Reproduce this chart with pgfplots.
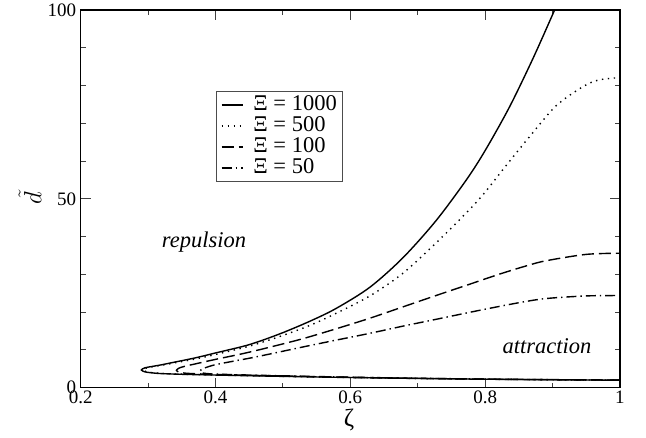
\documentclass[border=0pt]{standalone}
\usepackage{pgfplots}
\pgfplotsset{compat=1.18}
\usepackage{fontspec}
\setmainfont{Liberation Serif}
\begin{document}
\begin{tikzpicture}[x=1pt,y=1pt]
\useasboundingbox (0,0) rectangle (646,437);
\begin{axis}[
  at={(80.7pt,49.3pt)}, anchor=south west,
  scale only axis, width=539.3pt, height=377.7pt,
  xmin=0.2, xmax=1, ymin=0, ymax=100,
  xtick={0.2,0.4,0.6,0.8,1}, xticklabels={0.2,0.4,0.6,0.8,1},
  ytick={0,50,100},
  minor x tick num=1, minor y tick num=4,
  tick align=inside,
  major tick length=10pt, minor tick length=5pt,
  axis line style={line width=1.3pt},
  every tick/.style={line width=0.9pt, black!75},
  /pgf/number format/assume math mode=true,
  tick label style={font=\fontsize{19}{21}\selectfont},
  xticklabel style={yshift=0pt},
  yticklabel style={xshift=-1pt},
  xlabel={ζ},
  xlabel style={at={(axis description cs:0.4975,-0.0855)}, anchor=center, font=\fontsize{25}{27}\selectfont},
  ylabel={$\tilde{d}$},
  ylabel style={at={(axis description cs:-0.094,0.502)}, anchor=center, font=\fontsize{27}{29}\selectfont},
  legend style={at={(rel axis cs:0.25,0.7855)}, anchor=north west,
    draw=black!70, line width=0.9pt, font=\fontsize{22.5}{22}\selectfont,
    inner xsep=5pt, inner ysep=3pt, row sep=0pt, column sep=9pt,
    nodes={inner sep=1pt, text height=15pt, text depth=4pt},
    cells={anchor=west}},
  legend image code/.code={\draw[#1] (0pt,0pt) -- (21pt,0pt);},
  every axis plot/.append style={line width=1.4pt, black, smooth, tension=0.5},
]
\addplot[solid] coordinates {
(1.0,2.0)(0.9,2.1)(0.8,2.25)(0.7,2.45)(0.6,2.7)(0.5,3.0)(0.4,3.35)(0.35,3.55)(0.318,3.75)(0.305,3.95)(0.295,4.2)
(0.290,4.7)
(0.295,5.25)(0.305,5.6)(0.318,6.0)(0.34,6.8)(0.37,7.9)(0.4,9.2)(0.45,11.4)(0.496,14.3)(0.54,17.6)(0.579,21.0)(0.629,26.6)(0.678,34.4)(0.727,44.2)(0.772,55.0)(0.8,62.8)(0.836,74.3)(0.871,87.2)(0.903,100)(0.915,105)
};
\addlegendentry{Ξ = 1000}
\addplot[dash pattern=on 1.4pt off 4.6pt] coordinates {
(1.0,2.0)(0.9,2.1)(0.8,2.25)(0.7,2.45)(0.6,2.7)(0.5,3.0)(0.4,3.38)(0.35,3.58)(0.32,3.78)(0.308,3.95)(0.298,4.2)
(0.293,4.7)
(0.298,5.25)(0.308,5.6)(0.32,5.95)(0.34,6.6)(0.37,7.6)(0.4,8.8)(0.45,11.0)(0.496,13.6)(0.54,16.5)(0.579,19.7)(0.629,24.3)(0.678,30.3)(0.727,38.3)(0.777,47.2)(0.80,51.8)(0.831,58.8)(0.866,66.5)(0.905,74.6)(0.945,79.7)(0.969,81.5)(1.0,82.1)
};
\addlegendentry{Ξ = 500}
\addplot[dash pattern=on 12pt off 5pt] coordinates {
(1.0,2.02)(0.9,2.12)(0.8,2.27)(0.7,2.48)(0.6,2.75)(0.5,3.1)(0.45,3.3)(0.4,3.5)(0.37,3.7)(0.355,3.85)(0.346,4.1)
(0.342,4.6)
(0.346,5.2)(0.355,5.7)(0.37,6.3)(0.4,7.5)(0.44,9.0)(0.48,10.7)(0.53,13.0)(0.579,15.6)(0.629,18.4)(0.678,21.4)(0.727,24.4)(0.777,27.4)(0.82,30.0)(0.86,32.2)(0.89,33.6)(0.95,35.3)(1.0,35.6)
};
\addlegendentry{Ξ = 100}
\addplot[dash pattern=on 10pt off 4pt on 1.4pt off 4pt] coordinates {
(1.0,2.03)(0.9,2.13)(0.8,2.28)(0.7,2.5)(0.6,2.78)(0.5,3.15)(0.45,3.35)(0.4,3.6)(0.39,3.7)(0.381,3.9)
(0.377,4.4)
(0.381,5.0)(0.39,5.6)(0.4,6.1)(0.42,6.8)(0.45,7.8)(0.48,8.9)(0.53,10.8)(0.579,12.6)(0.629,14.4)(0.678,16.3)(0.727,18.1)(0.792,20.5)(0.85,22.5)(0.89,23.6)(0.95,24.3)(1.0,24.4)
};
\addlegendentry{Ξ = 50}
\node[font=\fontsize{22.5}{24}\selectfont\itshape] at (axis cs:0.383,38.6) {repulsion};
\node[font=\fontsize{22.5}{24}\selectfont\itshape] at (axis cs:0.8916,10.9) {attraction};
\end{axis}
\end{tikzpicture}
\end{document}
